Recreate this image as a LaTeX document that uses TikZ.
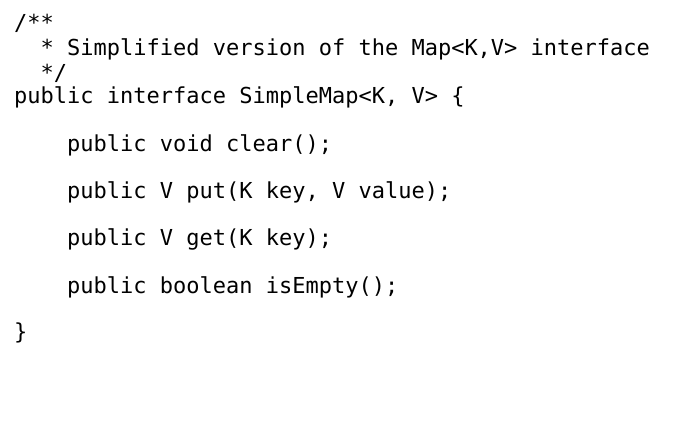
\documentclass[tikz,border=0pt]{standalone}
\usepackage{fontspec}
\setmonofont{DejaVu Sans Mono}
\begin{document}
\begin{tikzpicture}[x=1pt,y=1pt,
  codeline/.style={anchor=west,inner sep=0pt,font=\ttfamily\fontsize{22}{24}\selectfont}]
\useasboundingbox (0,0) rectangle (700,429);
\node[codeline] (l1) at (14,429-23) {/**};
\node[codeline] (l2) at (14,429-49) {\ \ * Simplified version of the Map<K,V> interface};
\node[codeline] (l3) at (14,429-73) {\ \ */};
\node[codeline] (l4) at (14,429-97) {public interface SimpleMap<K, V> \{};
\node[codeline] (l5) at (67,429-145) {public void clear();};
\node[codeline] (l6) at (67,429-192) {public V put(K key, V value);};
\node[codeline] (l7) at (67,429-239) {public V get(K key);};
\node[codeline] (l8) at (67,429-287) {public boolean isEmpty();};
\node[codeline] (l9) at (14,429-333) {\}};
\end{tikzpicture}
\end{document}
